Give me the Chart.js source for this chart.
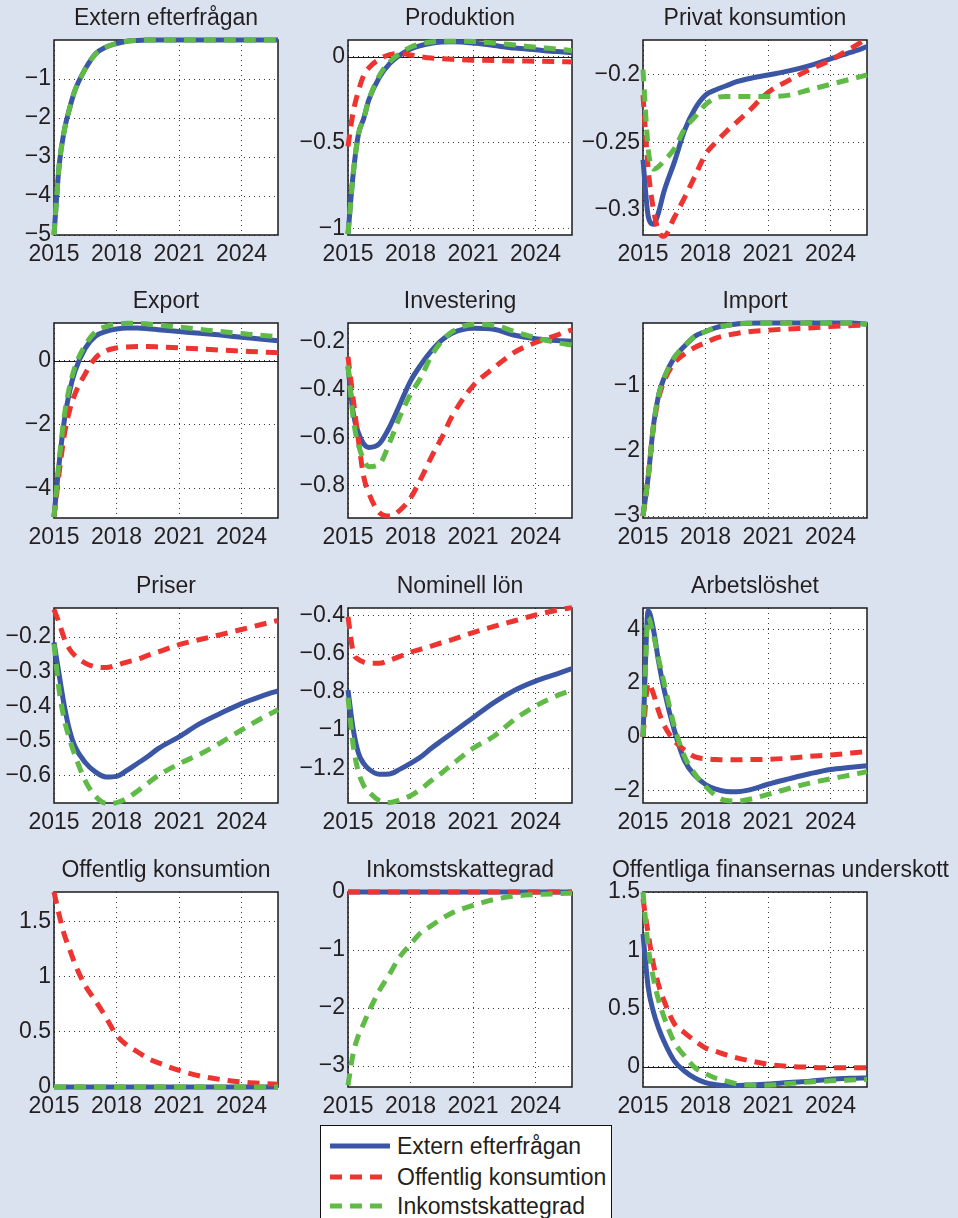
<!DOCTYPE html>
<html>
<head>
<meta charset="utf-8">
<script src="https://cdn.jsdelivr.net/npm/chart.js@4.4.1/dist/chart.umd.min.js"></script>
<style>
  html, body { margin: 0; padding: 0; }
  body {
    width: 958px; height: 1218px; overflow: hidden; position: relative;
    background: #dbe2ef;
    font-family: "Liberation Sans", Arial, sans-serif; color: #231f20;
  }
  .panel { position: absolute; }
  #legend {
    position: absolute; left: 320px; top: 1125px; width: 292px; height: 110px;
    background: #fff; border: 1px solid #111; box-sizing: border-box;
  }
  .item { position: absolute; left: 9px; height: 30px; display: flex; align-items: center; font-size: 23px; }
  .item svg { margin-right: 7px; }
</style>
</head>
<body>
<div id="legend">
  <div class="item" style="top:5px"><svg width="60" height="10"><line x1="0" y1="5" x2="60" y2="5" stroke="#3a56a5" stroke-width="5"/></svg>Extern efterfrågan</div>
  <div class="item" style="top:36px"><svg width="60" height="10"><line x1="0" y1="5" x2="60" y2="5" stroke="#ee3430" stroke-width="5" stroke-dasharray="12 8"/></svg>Offentlig konsumtion</div>
  <div class="item" style="top:65px"><svg width="60" height="10"><line x1="0" y1="5" x2="60" y2="5" stroke="#5fba46" stroke-width="5" stroke-dasharray="12 8"/></svg>Inkomstskattegrad</div>
</div>
<script>
// time axis (years, quarterly early on, then half-yearly / yearly)
const years = [2015, 2015.25, 2015.5, 2015.75, 2016, 2016.5, 2017, 2017.5, 2018, 2018.5, 2019, 2019.5, 2020, 2021, 2022, 2023, 2024, 2025, 2025.75];
const xTicks = [2015, 2018, 2021, 2024];

// Extern efterfrågan
const extBlue  = [-5, -3.2, -2.3, -1.75, -1.3, -0.74, -0.35, -0.18, -0.09, -0.03, -0.01, 0, 0, 0, 0, 0, 0, 0, 0];
const extGreen = [-5, -3.2, -2.3, -1.75, -1.3, -0.74, -0.35, -0.18, -0.09, -0.03, -0.01, 0, 0, 0, 0, 0, 0, 0, 0];
const extTicks = [-5, -4, -3, -2, -1];

// Produktion
const prodBlue  = [-1.03, -0.68, -0.45, -0.36, -0.25, -0.12, -0.04, 0.01, 0.045, 0.065, 0.078, 0.085, 0.087, 0.08, 0.065, 0.05, 0.04, 0.03, 0.025];
const prodRed   = [-0.52, -0.32, -0.2, -0.11, -0.065, -0.015, 0.012, 0.02, 0.01, 0.0, -0.008, -0.012, -0.015, -0.02, -0.022, -0.025, -0.026, -0.028, -0.03];
const prodGreen = [-1.03, -0.68, -0.45, -0.36, -0.25, -0.11, -0.03, 0.02, 0.055, 0.075, 0.085, 0.09, 0.09, 0.088, 0.08, 0.068, 0.055, 0.045, 0.035];
const prodTicks = [-1, -0.5, 0];

// Privat konsumtion
const privBlue  = [-0.263, -0.305, -0.311, -0.302, -0.287, -0.265, -0.241, -0.225, -0.215, -0.211, -0.208, -0.205, -0.203, -0.2, -0.197, -0.193, -0.188, -0.183, -0.179];
const privRed   = [-0.215, -0.27, -0.3, -0.316, -0.32, -0.306, -0.291, -0.275, -0.259, -0.25, -0.242, -0.235, -0.228, -0.213, -0.204, -0.196, -0.189, -0.18, -0.173];
const privGreen = [-0.196, -0.255, -0.27, -0.268, -0.264, -0.255, -0.24, -0.231, -0.222, -0.217, -0.216, -0.216, -0.216, -0.216, -0.215, -0.211, -0.207, -0.203, -0.2];
const privTicks = [-0.3, -0.25, -0.2];

// Export
const expBlue  = [-4.9, -3.2, -1.85, -0.95, -0.33, 0.4, 0.78, 0.93, 1.0, 1.03, 1.03, 1.01, 0.98, 0.92, 0.87, 0.81, 0.74, 0.68, 0.63];
const expRed   = [-4.9, -3.5, -2.3, -1.55, -1.05, -0.4, 0.1, 0.32, 0.41, 0.44, 0.45, 0.45, 0.44, 0.41, 0.38, 0.34, 0.31, 0.28, 0.26];
const expGreen = [-4.9, -3.1, -1.7, -0.8, -0.2, 0.5, 0.92, 1.08, 1.15, 1.18, 1.18, 1.16, 1.13, 1.06, 0.99, 0.92, 0.86, 0.8, 0.76];
const expTicks = [-4, -2, 0];

// Investering
const invBlue  = [-0.305, -0.497, -0.58, -0.625, -0.64, -0.625, -0.555, -0.46, -0.365, -0.297, -0.24, -0.195, -0.166, -0.146, -0.15, -0.175, -0.189, -0.197, -0.2];
const invRed   = [-0.264, -0.44, -0.61, -0.76, -0.83, -0.91, -0.925, -0.9, -0.85, -0.77, -0.68, -0.6, -0.51, -0.385, -0.31, -0.245, -0.205, -0.175, -0.152];
const invGreen = [-0.3, -0.52, -0.63, -0.69, -0.72, -0.71, -0.62, -0.51, -0.42, -0.35, -0.26, -0.2, -0.16, -0.13, -0.133, -0.16, -0.185, -0.205, -0.215];
const invTicks = [-0.8, -0.6, -0.4, -0.2];

// Import
const impBlue  = [-3.0, -2.4, -1.62, -1.15, -0.9, -0.58, -0.4, -0.25, -0.18, -0.12, -0.09, -0.065, -0.055, -0.05, -0.045, -0.045, -0.045, -0.05, -0.07];
const impRed   = [-3.0, -2.4, -1.65, -1.2, -0.95, -0.66, -0.52, -0.42, -0.35, -0.28, -0.24, -0.21, -0.185, -0.16, -0.14, -0.125, -0.105, -0.09, -0.08];
const impGreen = [-3.0, -2.4, -1.62, -1.15, -0.9, -0.58, -0.4, -0.25, -0.18, -0.12, -0.09, -0.065, -0.055, -0.05, -0.045, -0.045, -0.045, -0.05, -0.07];
const impTicks = [-3, -2, -1];

// Priser
const priBlue  = [-0.215, -0.31, -0.4, -0.47, -0.515, -0.562, -0.59, -0.604, -0.602, -0.585, -0.565, -0.545, -0.522, -0.488, -0.45, -0.42, -0.392, -0.37, -0.355];
const priRed   = [-0.12, -0.16, -0.205, -0.235, -0.253, -0.275, -0.286, -0.288, -0.281, -0.272, -0.264, -0.253, -0.243, -0.222, -0.207, -0.193, -0.178, -0.163, -0.152];
const priGreen = [-0.22, -0.355, -0.44, -0.495, -0.54, -0.615, -0.66, -0.68, -0.678, -0.665, -0.645, -0.622, -0.6, -0.566, -0.538, -0.505, -0.468, -0.433, -0.41];
const priTicks = [-0.6, -0.5, -0.4, -0.3, -0.2];

// Nominell lön
const lonBlue  = [-0.79, -0.995, -1.12, -1.175, -1.205, -1.232, -1.23, -1.205, -1.175, -1.14, -1.095, -1.055, -1.015, -0.935, -0.855, -0.79, -0.742, -0.705, -0.676];
const lonRed   = [-0.405, -0.59, -0.628, -0.642, -0.648, -0.648, -0.632, -0.612, -0.59, -0.574, -0.558, -0.54, -0.524, -0.487, -0.455, -0.425, -0.395, -0.37, -0.356];
const lonGreen = [-0.83, -1.08, -1.22, -1.29, -1.325, -1.37, -1.38, -1.366, -1.345, -1.31, -1.265, -1.225, -1.18, -1.095, -1.032, -0.943, -0.873, -0.82, -0.79];
const lonTicks = [-1.2, -1, -0.8, -0.6, -0.4];

// Arbetslöshet
const arbBlue  = [0, 4.7, 4.0, 2.8, 1.8, 0.25, -0.9, -1.45, -1.78, -1.95, -2.04, -2.05, -2.0, -1.77, -1.57, -1.38, -1.22, -1.14, -1.08];
const arbRed   = [0, 2.0, 1.6, 0.95, 0.45, -0.15, -0.5, -0.75, -0.82, -0.85, -0.86, -0.86, -0.85, -0.84, -0.8, -0.73, -0.68, -0.61, -0.55];
const arbGreen = [0, 4.45, 3.8, 2.9, 2.05, 0.4, -0.75, -1.4, -1.85, -2.2, -2.38, -2.4, -2.35, -2.15, -1.93, -1.73, -1.57, -1.42, -1.3];
const arbTicks = [-2, 0, 2, 4];

// Offentlig konsumtion
const offBlue  = [0, 0, 0, 0, 0, 0, 0, 0, 0, 0, 0, 0, 0, 0, 0, 0, 0, 0, 0];
const offRed   = [1.77, 1.56, 1.38, 1.25, 1.12, 0.92, 0.78, 0.63, 0.47, 0.38, 0.32, 0.26, 0.22, 0.15, 0.1, 0.068, 0.045, 0.032, 0.025];
const offGreen = [0, 0, 0, 0, 0, 0, 0, 0, 0, 0, 0, 0, 0, 0, 0, 0, 0, 0, 0];
const offTicks = [0, 0.5, 1, 1.5];

// Inkomstskattegrad
const inkBlue  = [0, 0, 0, 0, 0, 0, 0, 0, 0, 0, 0, 0, 0, 0, 0, 0, 0, 0, 0];
const inkRed   = [0, 0, 0, 0, 0, 0, 0, 0, 0, 0, 0, 0, 0, 0, 0, 0, 0, 0, 0];
const inkGreen = [-3.33, -2.78, -2.47, -2.27, -2.06, -1.7, -1.41, -1.11, -0.9, -0.7, -0.58, -0.46, -0.36, -0.23, -0.13, -0.07, -0.045, -0.03, -0.02];
const inkTicks = [-3, -2, -1, 0];

// Offentliga finansernas underskott
const undBlue  = [1.14, 0.68, 0.47, 0.33, 0.22, 0.05, -0.04, -0.1, -0.138, -0.155, -0.163, -0.163, -0.158, -0.15, -0.136, -0.125, -0.108, -0.1, -0.097];
const undRed   = [1.44, 1.14, 0.88, 0.7, 0.57, 0.37, 0.29, 0.22, 0.16, 0.13, 0.1, 0.075, 0.055, 0.02, 0.002, -0.005, -0.01, -0.01, -0.01];
const undGreen = [1.5, 1.03, 0.76, 0.57, 0.43, 0.21, 0.09, -0.01, -0.06, -0.1, -0.125, -0.147, -0.158, -0.16, -0.145, -0.132, -0.122, -0.115, -0.11];
const undTicks = [0, 0.5, 1, 1.5];

const BLUE = '#3a56a5', RED = '#ee3430', GREEN = '#5fba46', TEXT = '#231f20';
const FONT = '"Liberation Sans", Arial, sans-serif';

const panels = [
  { title: 'Extern efterfrågan', blue: extBlue, red: null, green: extGreen, ticks: extTicks, min: -5, max: 0 },
  { title: 'Produktion', blue: prodBlue, red: prodRed, green: prodGreen, ticks: prodTicks, min: -1.035, max: 0.097 },
  { title: 'Privat konsumtion', blue: privBlue, red: privRed, green: privGreen, ticks: privTicks, min: -0.319, max: -0.174 },
  { title: 'Export', blue: expBlue, red: expRed, green: expGreen, ticks: expTicks, min: -4.93, max: 1.19 },
  { title: 'Investering', blue: invBlue, red: invRed, green: invGreen, ticks: invTicks, min: -0.933, max: -0.124 },
  { title: 'Import', blue: impBlue, red: impRed, green: impGreen, ticks: impTicks, min: -3.03, max: -0.05 },
  { title: 'Priser', blue: priBlue, red: priRed, green: priGreen, ticks: priTicks, min: -0.679, max: -0.116 },
  { title: 'Nominell lön', blue: lonBlue, red: lonRed, green: lonGreen, ticks: lonTicks, min: -1.383, max: -0.358 },
  { title: 'Arbetslöshet', blue: arbBlue, red: arbRed, green: arbGreen, ticks: arbTicks, min: -2.47, max: 4.8 },
  { title: 'Offentlig konsumtion', blue: offBlue, red: offRed, green: offGreen, ticks: offTicks, min: 0, max: 1.77 },
  { title: 'Inkomstskattegrad', blue: inkBlue, red: inkRed, green: inkGreen, ticks: inkTicks, min: -3.36, max: 0 },
  { title: 'Offentliga finansernas underskott', blue: undBlue, red: undRed, green: undGreen, ticks: undTicks, min: -0.175, max: 1.5, wide: true }
];

// plot-area placement on the page
const colLeft = [54, 348, 643];
const rowTop = [40, 323, 608, 892];
const plotW = 224, plotH = 195, axisW = 66, titleH = 40, xAxisH = 36;

Chart.defaults.font.family = FONT;
Chart.defaults.font.size = 23;
Chart.defaults.color = TEXT;

// white plot background, black box, zero line and panel title
const framePlugin = {
  id: 'frame',
  beforeDraw(chart) {
    const { ctx, chartArea: a } = chart;
    ctx.save();
    ctx.fillStyle = '#fff';
    ctx.fillRect(a.left, a.top, a.right - a.left, a.bottom - a.top);
    ctx.restore();
  },
  beforeDatasetsDraw(chart) {
    const { ctx, chartArea: a, scales } = chart;
    const y = scales.y;
    ctx.save();
    ctx.strokeStyle = '#1a1a1a';
    if (y.min < 0 && y.max > 0) {
      const py = Math.round(y.getPixelForValue(0)) + 0.5;
      ctx.lineWidth = 1;
      ctx.beginPath();
      ctx.moveTo(a.left, py);
      ctx.lineTo(a.right, py);
      ctx.stroke();
    }
    ctx.lineWidth = 1.5;
    ctx.strokeRect(a.left, a.top, a.right - a.left, a.bottom - a.top);
    ctx.restore();
  },
  afterDraw(chart, args, opts) {
    const { ctx, chartArea: a } = chart;
    ctx.save();
    ctx.font = '23px ' + FONT;
    ctx.fillStyle = TEXT;
    ctx.textBaseline = 'alphabetic';
    if (opts.wide) {
      ctx.textAlign = 'right';
      ctx.fillText(opts.text, chart.width - 2, a.top - 15);
    } else {
      ctx.textAlign = 'center';
      ctx.fillText(opts.text, (a.left + a.right) / 2, a.top - 15);
    }
    ctx.restore();
  }
};

function series(values, color, dashed) {
  return {
    data: values.map((v, i) => ({ x: years[i], y: v })),
    borderColor: color,
    borderWidth: 5,
    borderDash: dashed ? [12, 8] : [],
    pointRadius: 0,
    cubicInterpolationMode: 'monotone',
    fill: false,
    clip: 4
  };
}

function fmt(v) {
  return (v < 0 ? '\u2212' : '') + String(Math.abs(v));
}

panels.forEach((p, i) => {
  const padRight = p.wide ? 84 : 10;
  const left = colLeft[i % 3] - axisW;
  const top = rowTop[Math.floor(i / 3)] - titleH;
  const w = axisW + plotW + padRight;
  const h = titleH + plotH + xAxisH;

  const canvas = document.createElement('canvas');
  canvas.className = 'panel';
  canvas.width = w;
  canvas.height = h;
  canvas.style.left = left + 'px';
  canvas.style.top = top + 'px';
  document.body.appendChild(canvas);

  // first dataset is drawn on top: green over red over blue
  const datasets = [series(p.green, GREEN, true)];
  if (p.red) datasets.push(series(p.red, RED, true));
  datasets.push(series(p.blue, BLUE, false));

  new Chart(canvas, {
    type: 'line',
    data: { datasets },
    options: {
      responsive: false,
      animation: false,
      events: [],
      layout: { padding: { left: 0, right: padRight, top: titleH, bottom: 0 } },
      plugins: {
        legend: { display: false },
        tooltip: { enabled: false },
        title: { display: false },
        frame: { text: p.title, wide: !!p.wide }
      },
      scales: {
        x: {
          type: 'linear',
          min: 2015,
          max: 2025.75,
          afterBuildTicks: s => { s.ticks = xTicks.map(v => ({ value: v })); },
          afterFit: s => { s.height = xAxisH; },
          ticks: { padding: 6, autoSkip: false, maxRotation: 0, color: TEXT, callback: v => String(v) },
          grid: { color: '#3a3a3a', lineWidth: 1, drawTicks: false },
          border: { display: false, dash: [1, 4] }
        },
        y: {
          type: 'linear',
          min: p.min,
          max: p.max,
          afterBuildTicks: s => { s.ticks = p.ticks.map(v => ({ value: v })); },
          afterFit: s => { s.width = axisW; },
          ticks: { padding: 3, autoSkip: false, color: TEXT, callback: v => fmt(v) },
          grid: { color: '#3a3a3a', lineWidth: 1, drawTicks: false },
          border: { display: false, dash: [1, 4] }
        }
      }
    },
    plugins: [framePlugin]
  });
});
</script>
</body>
</html>
